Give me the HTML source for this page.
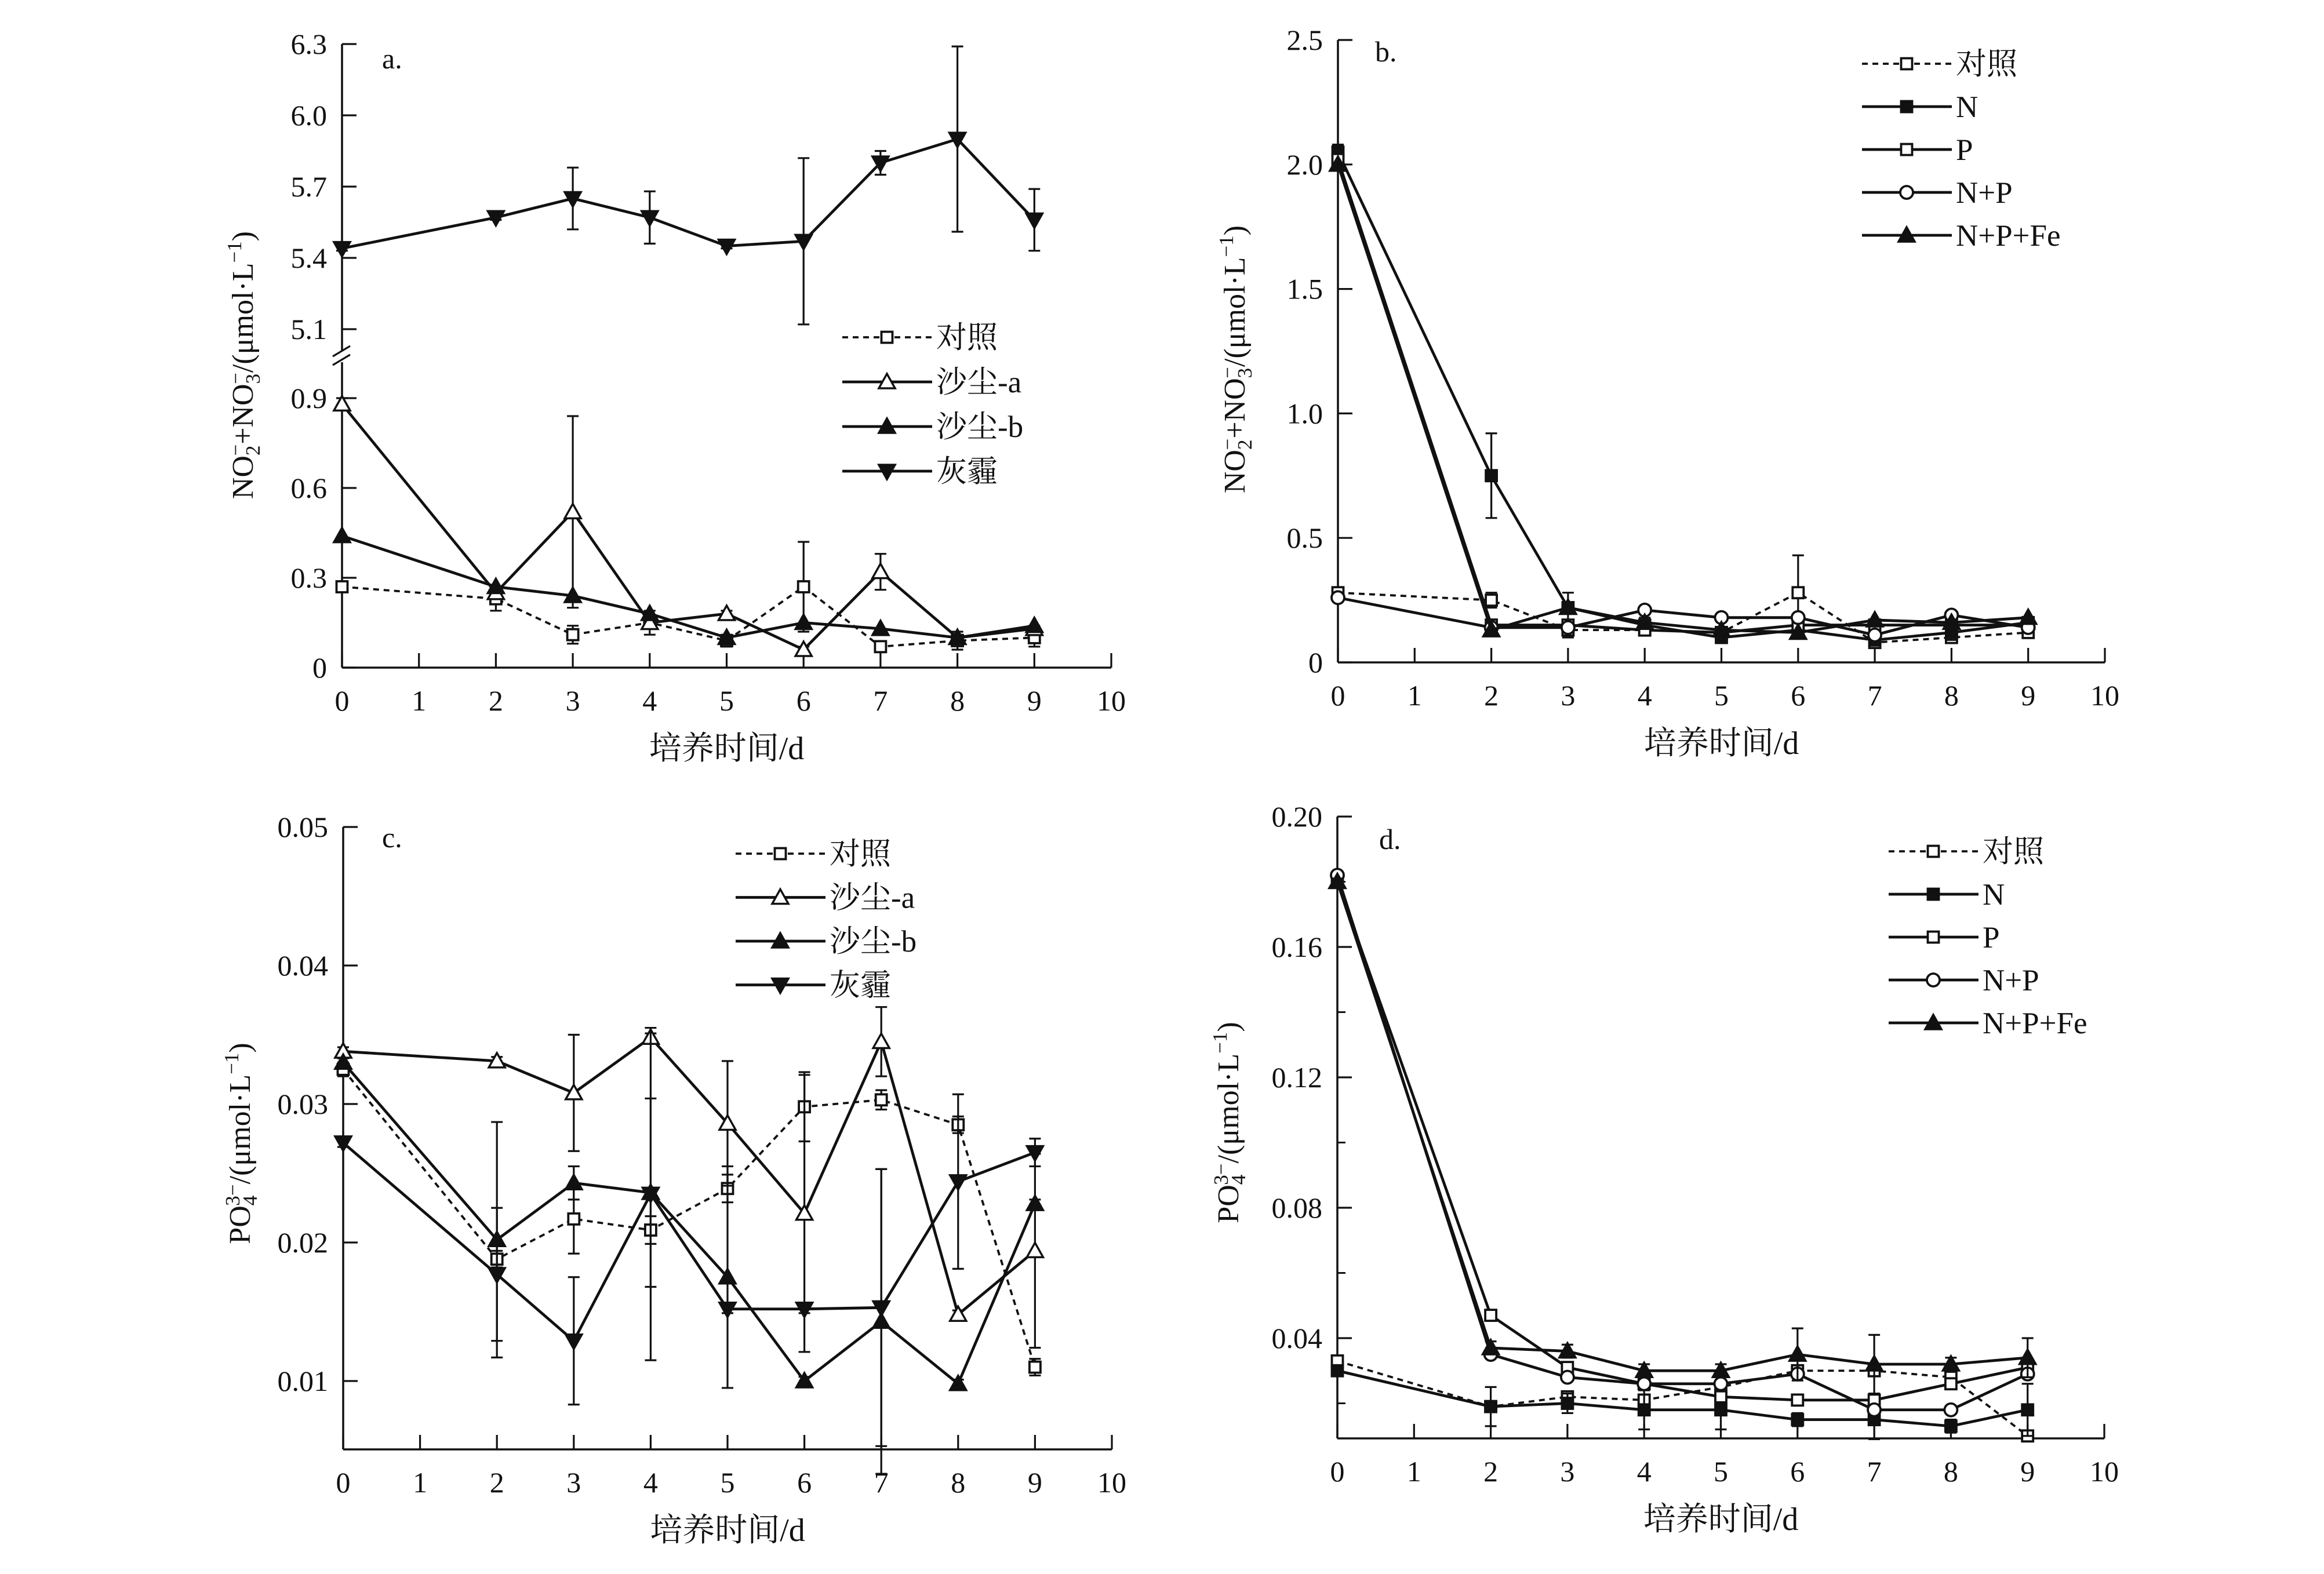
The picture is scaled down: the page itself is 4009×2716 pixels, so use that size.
<!DOCTYPE html>
<html><head><meta charset="utf-8"><style>
html,body{margin:0;padding:0;background:#fff;}
svg{display:block;}
text{font-family:"Liberation Serif","Noto Serif CJK SC",serif;fill:#111;}
</style></head><body>
<svg id="chart" width="4009" height="2716" viewBox="0 0 4009 2716" xmlns="http://www.w3.org/2000/svg"></svg>
<script>
const days = [0,2,3,4,5,6,7,8,9];
const xTicks = [0,1,2,3,4,5,6,7,8,9,10];
// panel a
const aLabels = ['对照','沙尘-a','沙尘-b','灰霾'];
const aCtrl = [0.27,0.23,0.11,0.15,0.09,0.27,0.07,0.09,0.10];
const aDustA = [0.88,0.25,0.52,0.15,0.18,0.06,0.32,0.10,0.13];
const aDustB = [0.44,0.27,0.24,0.18,0.10,0.15,0.13,0.10,0.14];
const aHaze = [5.44,5.57,5.65,5.57,5.45,5.47,5.80,5.90,5.56];
const aHazeErr = [0.01,0.01,0.13,0.11,0.01,0.35,0.05,0.39,0.13];
const aCtrlErr = [0.01,0.04,0.03,0.04,0.02,0.15,0.01,0.03,0.03];
const aDustAErr = [0.02,0.02,0.32,0.02,0.01,0.01,0.06,0.01,0.01];
const aLowTicks = [0,0.3,0.6,0.9];
const aHighTicks = [5.1,5.4,5.7,6.0,6.3];
// panel b
const bLabels = ['对照','N','P','N+P','N+P+Fe'];
const bCtrl = [0.28,0.25,0.13,0.13,0.12,0.28,0.08,0.10,0.12];
const bN = [2.05,0.75,0.22,0.15,0.10,0.13,0.09,0.12,0.16];
const bP = [2.02,0.15,0.15,0.13,0.12,0.15,0.15,0.15,0.15];
const bNP = [0.26,0.14,0.14,0.21,0.18,0.18,0.11,0.19,0.14];
const bNPFe = [2.00,0.13,0.22,0.16,0.13,0.12,0.17,0.16,0.18];
const bNErr = [0.03,0.17,0.06,0.03,0.02,0.02,0.02,0.03,0.02];
const bCtrlErr = [0.02,0.03,0.03,0.02,0.02,0.15,0.02,0.02,0.02];
const bTicks = [0,0.5,1.0,1.5,2.0,2.5];
// panel c
const cLabels = ['对照','沙尘-a','沙尘-b','灰霾'];
const cCtrl = [0.0325,0.0188,0.0217,0.0209,0.0239,0.0298,0.0303,0.0285,0.0110];
const cDustA = [0.0338,0.0331,0.0308,0.0348,0.0286,0.0221,0.0345,0.0148,0.0194];
const cDustB = [0.0330,0.0202,0.0243,0.0236,0.0175,0.0100,0.0143,0.0098,0.0228];
const cHaze = [0.0272,0.0177,0.0129,0.0235,0.0152,0.0152,0.0153,0.0244,0.0265];
const cCtrlErr = [0.0005,0.0006,0.0025,0.0010,0.0010,0.0025,0.0007,0.0006,0.0006];
const cDustAErr = [0.0003,0.0003,0.0042,0.0003,0.0045,0.0100,0.0025,0.0003,0.0070];
const cDustBErr = [0.0003,0.0085,0.0012,0.0068,0.0080,0.0003,0.0110,0.0003,0.0003];
const cHazeErr = [0.0003,0.0048,0.0046,0.0120,0.0003,0.0003,0.0100,0.0063,0.0010];
const cTicks = [0.01,0.02,0.03,0.04,0.05];
// panel d
const dLabels = ['对照','N','P','N+P','N+P+Fe'];
const dCtrl = [0.033,0.019,0.022,0.021,0.025,0.030,0.030,0.028,0.010];
const dN = [0.030,0.019,0.020,0.018,0.018,0.015,0.015,0.013,0.018];
const dP = [0.180,0.047,0.031,0.026,0.022,0.021,0.021,0.026,0.031];
const dNP = [0.182,0.035,0.028,0.026,0.026,0.029,0.018,0.018,0.029];
const dNPFe = [0.180,0.037,0.036,0.030,0.030,0.035,0.032,0.032,0.034];
const dNPFeErr = [0.001,0.002,0.002,0.002,0.002,0.008,0.009,0.002,0.006];
const dNErr = [0.001,0.006,0.003,0.006,0.006,0.002,0.006,0.002,0.008];
const dTicks = [0.04,0.08,0.12,0.16,0.20];

const svg = document.getElementById('chart');
const NS = 'http://www.w3.org/2000/svg';
const FT = 50, FL = 53, FX = 56;
function mk(tag, attrs, parent){const e=document.createElementNS(NS,tag);for(const k in attrs)e.setAttribute(k,attrs[k]);(parent||svg).appendChild(e);return e;}
function txt(x,y,s,size,anchor,parent){const t=mk('text',{x:x,y:y,'font-size':size,'text-anchor':anchor||'middle'},parent);t.textContent=s;return t;}

function marker(g,type,x,y){
  const s=11;
  let e;
  if(type==='sqo'||type==='sqf'){e=mk('rect',{x:x-s+1.5,y:y-s+1.5,width:2*s-3,height:2*s-3,fill:type==='sqf'?'#111':'#fff',stroke:'#111','stroke-width':3.8},g);}
  else if(type==='cir'){e=mk('circle',{cx:x,cy:y,r:s,fill:'#fff',stroke:'#111','stroke-width':3.8},g);}
  else if(type==='tro'||type==='trf'){e=mk('polygon',{points:`${x},${y-s-3} ${x-s-3},${y+s} ${x+s+3},${y+s}`,fill:type==='trf'?'#111':'#fff',stroke:'#111','stroke-width':3.5},g);}
  else if(type==='trd'){e=mk('polygon',{points:`${x},${y+s+3} ${x-s-3},${y-s} ${x+s+3},${y-s}`,fill:'#111',stroke:'#111','stroke-width':3.5},g);}
  
  
}

function series(g,xf,yf,vals,errs,type,dashed,name){
  const sg=mk('g',{},g);
  
  
  if(errs){
    days.forEach((d,i)=>{const x=xf(d);const y1=yf(vals[i]+errs[i]),y2=yf(vals[i]-errs[i]);
      mk('path',{d:`M${x},${y1}V${y2}M${x-10},${y1}H${x+10}M${x-10},${y2}H${x+10}`,stroke:'#111','stroke-width':3.2,fill:'none'},sg);});
  }
  const p=mk('polyline',{points:days.map((d,i)=>xf(d)+','+yf(vals[i])).join(' '),fill:'none',stroke:'#111','stroke-width':dashed?3.8:4.8,'stroke-dasharray':dashed?'10,8':'none'},sg);
  
  
  days.forEach((d,i)=>marker(sg,type,xf(d),yf(vals[i])));
}

function legend(g,x0,y0,dy,labels,types){
  labels.forEach((l,i)=>{const y=y0+i*dy;
    const lg=mk('g',{},g);
    
    
    mk('line',{x1:x0,y1:y,x2:x0+155,y2:y,stroke:'#111','stroke-width':i===0?3.8:4.8,'stroke-dasharray':i===0?'10,8':'none'},lg);
    marker(lg,types[i],x0+77,y);
    txt(x0+162,y+18,l,FL,'start',lg);});
}

function xAxis(g,x0,x1,yb,label){
  const xf=d=>x0+(x1-x0)*d/10;
  mk('line',{x1:x0,y1:yb,x2:x1,y2:yb,stroke:'#111','stroke-width':3.5},g);
  xTicks.forEach(t=>{mk('line',{x1:xf(t),y1:yb,x2:xf(t),y2:yb-25,stroke:'#111','stroke-width':3.2},g);
    const tt=txt(xf(t),yb+74,String(t),FT,'middle',g);
    });
  const xl=txt((x0+x1)/2,yb+158,label,FX,'middle',g);
  
  return xf;
}
function yTick(g,x0,y,label){
  mk('line',{x1:x0,y1:y,x2:x0+25,y2:y,stroke:'#111','stroke-width':3.2},g);
  const t=txt(x0-26,y+17,label,FT,'end',g);
  
}
function ylab(g,x,y,parts){
  const t=mk('text',{x:0,y:0,'font-size':FX-4,'text-anchor':'middle',transform:`translate(${x},${y}) rotate(-90)`},g);
  
  parts.forEach(p=>{const s=mk('tspan',{},t);
    if(p[1]==='sub'||p[1]==='sup'){s.setAttribute('font-size',35);s.setAttribute('dy',p[2]);if(p[3])s.setAttribute('dx',p[3]);}
    else if(p[1]==='back'){s.setAttribute('dy',p[2]);}
    s.textContent=p[0];});
}
const noLabel=[['NO'],['2','sub',12],['−','sup',-30,-18],['+NO','back',18],['3','sub',12],['−','sup',-30,-18],['/(μmol·L','back',18],['−1','sup',-20],[')','back',20]];
const poLabel=[['PO'],['4','sub',12],['3−','sup',-30,-18],['/(μmol·L','back',18],['−1','sup',-20],[')','back',20]];

// ---- panel a ----
(function(){
  const g=mk('g',{});
  const X0=590,X1=1917,YB=1152;
  const xf=xAxis(g,X0,X1,YB,'培养时间/d');
  const yLow=v=>YB-v/0.9*(YB-687);
  const yHigh=v=>568-(v-5.1)/1.2*(568-76);
  mk('line',{x1:X0,y1:YB,x2:X0,y2:625,stroke:'#111','stroke-width':3.5},g);
  mk('line',{x1:X0,y1:605,x2:X0,y2:76,stroke:'#111','stroke-width':3.5},g);
  mk('path',{d:`M${X0-16},${630}L${X0+14},${612}M${X0-16},${615}L${X0+14},${597}`,stroke:'#111','stroke-width':3.2},g);
  aLowTicks.forEach(t=>yTick(g,X0,yLow(t),t===0?'0':t.toFixed(1)));
  aHighTicks.forEach(t=>yTick(g,X0,yHigh(t),t.toFixed(1)));
  txt(659,118,'a.',FT,'start',g);
  ylab(g,436,630,noLabel);
  series(g,xf,yLow,aCtrl,aCtrlErr,'sqo',true,'series-control');
  series(g,xf,yLow,aDustA,aDustAErr,'tro',false,'series-dust-a');
  series(g,xf,yLow,aDustB,null,'trf',false,'series-dust-b');
  series(g,xf,yHigh,aHaze,aHazeErr,'trd',false,'series-haze');
  legend(g,1453,582,77,aLabels,['sqo','tro','trf','trd']);
})();

// ---- panel b ----
(function(){
  const g=mk('g',{});
  const X0=2308,X1=3631,YB=1143;
  const xf=xAxis(g,X0,X1,YB,'培养时间/d');
  const yf=v=>YB-v/2.5*(YB-69);
  mk('line',{x1:X0,y1:YB,x2:X0,y2:69,stroke:'#111','stroke-width':3.5},g);
  bTicks.forEach(t=>yTick(g,X0,yf(t),t===0?'0':t.toFixed(1)));
  txt(2372,106,'b.',FT,'start',g);
  ylab(g,2147,620,noLabel);
  series(g,xf,yf,bCtrl,bCtrlErr,'sqo',true,'series-control');
  series(g,xf,yf,bN,bNErr,'sqf',false,'series-n');
  series(g,xf,yf,bP,null,'sqo',false,'series-p');
  series(g,xf,yf,bNP,null,'cir',false,'series-n-p');
  series(g,xf,yf,bNPFe,null,'trf',false,'series-n-p-fe');
  legend(g,3212,110,74,bLabels,['sqo','sqf','sqo','cir','trf']);
})();

// ---- panel c ----
(function(){
  const g=mk('g',{});
  const X0=592,X1=1918,YB=2501;
  const xf=xAxis(g,X0,X1,YB,'培养时间/d');
  const yf=v=>1427+(0.05-v)/0.04*(2383-1427);
  mk('line',{x1:X0,y1:YB,x2:X0,y2:1427,stroke:'#111','stroke-width':3.5},g);
  cTicks.forEach(t=>yTick(g,X0,yf(t),t.toFixed(2)));
  txt(659,1462,'c.',FT,'start',g);
  ylab(g,431,1973,poLabel);
  series(g,xf,yf,cCtrl,cCtrlErr,'sqo',true,'series-control');
  series(g,xf,yf,cDustA,cDustAErr,'tro',false,'series-dust-a');
  series(g,xf,yf,cDustB,cDustBErr,'trf',false,'series-dust-b');
  series(g,xf,yf,cHaze,cHazeErr,'trd',false,'series-haze');
  legend(g,1269,1473,75.5,cLabels,['sqo','tro','trf','trd']);
})();

// ---- panel d ----
(function(){
  const g=mk('g',{});
  const X0=2307,X1=3630,YB=2482;
  const xf=xAxis(g,X0,X1,YB,'培养时间/d');
  const yf=v=>1409+(0.20-v)/0.16*(2309-1409);
  mk('line',{x1:X0,y1:YB,x2:X0,y2:1409,stroke:'#111','stroke-width':3.5},g);
  dTicks.forEach(t=>{yTick(g,X0,yf(t),t.toFixed(2));
    mk('line',{x1:X0,y1:yf(t-0.02),x2:X0+14,y2:yf(t-0.02),stroke:'#111','stroke-width':3},g);});
  txt(2379,1465,'d.',FT,'start',g);
  ylab(g,2136,1937,poLabel);
  series(g,xf,yf,dCtrl,null,'sqo',true,'series-control');
  series(g,xf,yf,dN,dNErr,'sqf',false,'series-n');
  series(g,xf,yf,dP,null,'sqo',false,'series-p');
  series(g,xf,yf,dNP,null,'cir',false,'series-n-p');
  series(g,xf,yf,dNPFe,dNPFeErr,'trf',false,'series-n-p-fe');
  legend(g,3258,1469,74,dLabels,['sqo','sqf','sqo','cir','trf']);
})();
</script>
</body></html>
